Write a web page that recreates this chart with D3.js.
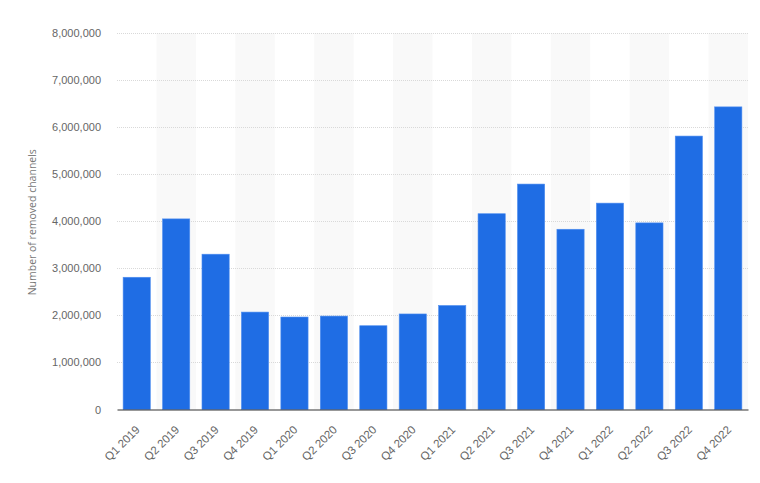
<!DOCTYPE html>
<html><head><meta charset="utf-8">
<script src="https://cdn.jsdelivr.net/npm/d3@7"></script>
<style>
html,body{margin:0;padding:0;background:#fff;}
svg{display:block;font-family:"Open Sans",sans-serif;}
</style></head>
<body><svg id="chart" width="760" height="483"></svg>
<script>
const categories = ["Q1 2019","Q2 2019","Q3 2019","Q4 2019","Q1 2020","Q2 2020","Q3 2020","Q4 2020","Q1 2021","Q2 2021","Q3 2021","Q4 2021","Q1 2022","Q2 2022","Q3 2022","Q4 2022"];
const removedChannels = [2810000,4050000,3300000,2070000,1965000,1985000,1780000,2030000,2210000,4160000,4790000,3830000,4385000,3965000,5810000,6430000];
const yTicks = [0,1000000,2000000,3000000,4000000,5000000,6000000,7000000,8000000];
const yTitle = "Number of removed channels";

const svg = d3.select("#chart");
const m = {left:117, right:12, top:33, bottom:73.5};
const W = 760, H = 483;
const x = d3.scaleBand().domain(categories).range([m.left, W-m.right]).paddingInner(0.31).paddingOuter(0.155);
const xb = d3.scaleBand().domain(categories).range([m.left, W-m.right]);
const y = d3.scaleLinear().domain([0,8000000]).range([H-m.bottom, m.top]);

// alternating band shading
svg.append("g").selectAll("rect").data(categories.filter((d,i)=>i%2===1)).join("rect")
  .attr("x", d=>xb(d)).attr("width", xb.bandwidth())
  .attr("y", m.top).attr("height", y(0)-m.top)
  .attr("fill", "#f9f9f9");

// gridlines
svg.append("g").selectAll("line").data(yTicks.filter(t=>t>0)).join("line")
  .attr("x1", m.left).attr("x2", W-m.right)
  .attr("y1", d=>Math.round(y(d))+0.5).attr("y2", d=>Math.round(y(d))+0.5)
  .attr("stroke", "#d9d9d9").attr("stroke-dasharray","1,1");

// y axis labels
const yAxis = d3.axisLeft(y).tickValues(yTicks).tickSize(0).tickPadding(16)
  .tickFormat(d3.format(","));
const gy = svg.append("g").attr("transform", `translate(${m.left},0)`).call(yAxis);
gy.select(".domain").remove();
gy.selectAll("text").attr("fill","#666").style("font-size","11px");

// bars
svg.append("g").selectAll("rect").data(removedChannels).join("rect")
  .attr("x", (d,i)=>x(categories[i])).attr("width", x.bandwidth())
  .attr("y", d=>y(d)).attr("height", d=>y(0)-y(d))
  .attr("fill", "#1f6de4").attr("stroke","#4f8ef0").attr("stroke-width",0.6);

// x axis
const xAxis = d3.axisBottom(xb).tickSize(0).tickPadding(0);
const gx = svg.append("g").attr("transform", `translate(0,${y(0)})`).call(xAxis);
gx.select(".domain").attr("stroke","#333").attr("stroke-width",1.2);
gx.selectAll("text").attr("fill","#666").style("font-size","11.5px")
  .attr("text-anchor","end").attr("x",0).attr("y",0).attr("dy","0.35em")
  .attr("transform","translate(1,18) rotate(-45)");

// y title
svg.append("text").attr("transform", `translate(36,${(m.top+y(0))/2+1}) rotate(-90)`)
  .attr("text-anchor","middle").attr("fill","#777").style("font-size","10.5px").text(yTitle);
</script></body></html>
